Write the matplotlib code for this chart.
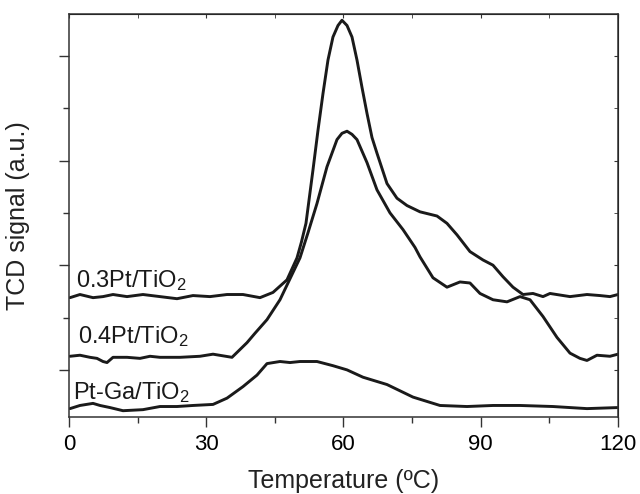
import numpy as np
import matplotlib
matplotlib.use("Agg")
import matplotlib.pyplot as plt
from matplotlib.ticker import MultipleLocator, NullFormatter

plt.rcParams['font.family'] = ['Liberation Sans', 'DejaVu Sans']
plt.rcParams['mathtext.default'] = 'regular'

# ---------- data ----------
# 0.3Pt/TiO2
t_03 = [0.22, 2.40, 5.25, 7.43, 9.62, 12.68, 16.17, 19.89, 23.61, 27.10, 30.82, 34.54,
        38.03, 41.75, 44.59, 47.65, 49.84, 50.80, 51.80, 52.46, 53.33, 54.43, 55.52, 56.61,
        57.70, 58.80, 59.67, 60.77, 61.86, 62.95, 64.04, 65.14, 66.23, 67.32, 69.51, 71.69, 73.88,
        76.72, 80.44, 82.62, 84.81, 87.65, 90.49, 92.68, 94.86, 97.05, 99.24, 101.42,
        103.61, 105.14, 109.51, 113.22, 116.07, 118.25, 120.0]
s_03 = [0.69, 0.72, 0.69, 0.70, 0.72, 0.70, 0.72, 0.70, 0.68, 0.71, 0.70, 0.72,
        0.72, 0.69, 0.74, 0.86, 1.07, 1.22, 1.40, 1.62, 1.91, 2.29, 2.64, 2.96,
        3.18, 3.29, 3.34, 3.29, 3.18, 2.96, 2.70, 2.45, 2.22, 2.07, 1.78, 1.64, 1.57,
        1.51, 1.47, 1.40, 1.29, 1.13, 1.05, 1.00, 0.89, 0.79, 0.72, 0.73,
        0.70, 0.73, 0.70, 0.72, 0.71, 0.70, 0.72]

# 0.4Pt/TiO2
t_04 = [0.22, 2.40, 4.59, 6.12, 7.43, 8.31, 9.62, 12.68, 15.52, 17.71, 19.89, 24.26,
        28.63, 31.48, 35.63, 38.91, 40.66, 43.28, 46.12, 48.96, 50.49, 52.24, 54.21, 56.39,
        58.58, 59.67, 60.77, 61.86, 62.95, 65.14, 67.32, 70.16, 73.01, 75.63, 76.72, 79.56, 82.62,
        85.46, 87.65, 89.84, 92.68, 95.74, 98.58, 100.77, 103.61, 106.67, 109.51,
        111.69, 113.22, 115.41, 118.25, 120.0]
s_04 = [0.13, 0.14, 0.12, 0.11, 0.08, 0.07, 0.12, 0.12, 0.11, 0.13, 0.12, 0.12,
        0.13, 0.15, 0.12, 0.26, 0.35, 0.48, 0.67, 0.93, 1.07, 1.31, 1.59, 1.94,
        2.20, 2.26, 2.28, 2.25, 2.20, 1.98, 1.72, 1.50, 1.34, 1.17, 1.08, 0.88, 0.79,
        0.84, 0.83, 0.73, 0.67, 0.65, 0.70, 0.67, 0.51, 0.31, 0.16,
        0.11, 0.09, 0.14, 0.13, 0.15]

# Pt-Ga/TiO2
t_ga = [0.22, 2.40, 5.25, 6.78, 8.96, 11.80, 16.17, 19.89, 23.61, 27.10, 31.48, 34.54,
        38.03, 41.09, 43.28, 46.12, 48.31, 50.49, 54.21, 57.70, 60.77, 64.26, 69.51,
        75.19, 81.09, 87.00, 92.68, 98.58, 105.79, 113.22, 120.0]
s_ga = [-0.37, -0.34, -0.32, -0.34, -0.36, -0.39, -0.38, -0.35, -0.35, -0.34, -0.33, -0.27,
        -0.16, -0.05, 0.06, 0.08, 0.07, 0.08, 0.08, 0.04, 0.00, -0.07, -0.14,
        -0.26, -0.34, -0.35, -0.34, -0.34, -0.35, -0.37, -0.36]

# ---------- plot ----------
fig = plt.figure(figsize=(6.4, 4.94), dpi=100)
ax = fig.add_axes([0.1078, 0.1559, 0.8578, 0.8158])

lc = '#1a1a1a'
for t, s in [(t_03, s_03), (t_04, s_04), (t_ga, s_ga)]:
    ax.plot(t, s, color=lc, lw=2.1, solid_joinstyle='round', solid_capstyle='round')

ax.text(1.5, 0.79, '0.3Pt/TiO$_2$', fontsize=17, color=lc)
ax.text(2.0, 0.26, '0.4Pt/TiO$_2$', fontsize=17, color=lc)
ax.text(0.8, -0.28, 'Pt-Ga/TiO$_2$', fontsize=17, color=lc)

ax.set_xlim(0, 120)
ax.set_ylim(-0.45, 3.40)

ax.xaxis.set_major_locator(MultipleLocator(30))
ax.xaxis.set_minor_locator(MultipleLocator(15))
ax.yaxis.set_major_locator(MultipleLocator(1))
ax.yaxis.set_minor_locator(MultipleLocator(0.5))
ax.yaxis.set_major_formatter(NullFormatter())

ax.tick_params(which='both', direction='out', top=False, right=False, color='#333333')
ax.tick_params(which='major', length=7, width=1.0, labelsize=16, pad=5)
ax.tick_params(which='minor', length=4, width=1.0)
# inward ticks on the top and right edges
ax2 = ax.secondary_xaxis('top')
ax2.xaxis.set_major_locator(MultipleLocator(30))
ax2.xaxis.set_minor_locator(MultipleLocator(15))
ax2.tick_params(which='both', direction='in', length=3, labeltop=False, color='#333333')
ax3 = ax.secondary_yaxis('right')
ax3.yaxis.set_major_locator(MultipleLocator(1))
ax3.yaxis.set_minor_locator(MultipleLocator(0.5))
ax3.tick_params(which='both', direction='in', length=3, labelright=False, color='#333333')

for sp in ax.spines.values():
    sp.set_linewidth(1.1)
    sp.set_color('#333333')

ax.set_xlabel('Temperature (ºC)', fontsize=18, labelpad=10, color='#222222')
ax.set_ylabel('TCD signal (a.u.)', fontsize=18, labelpad=16, color='#222222')

fig.savefig('out.png', dpi=100)
